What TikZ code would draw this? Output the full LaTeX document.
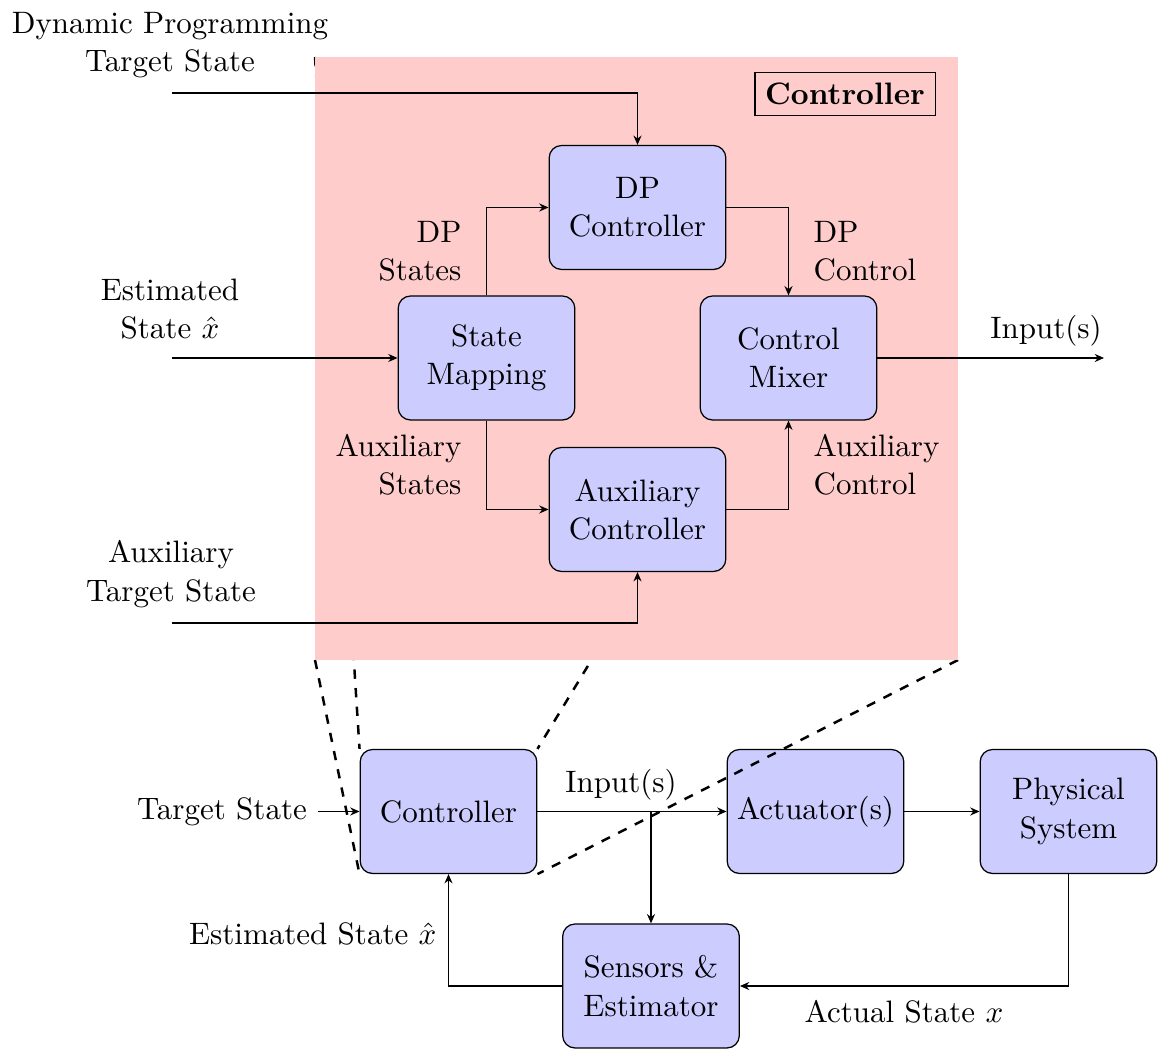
\documentclass[tikz,border=0pt]{standalone}
\usetikzlibrary{arrows.meta}
\begin{document}
\begin{tikzpicture}[x=0.3226pt,y=-0.3226pt,
  every node/.style={font=\fontsize{10}{12.4}\selectfont},
  block/.style={draw, fill=blue!20, rounded corners=4pt, align=center,
    minimum width=57pt, minimum height=40pt, inner sep=2pt},
  lbl/.style={inner sep=0pt, align=center},
  conn/.style={-{Stealth[length=3pt,width=2.6pt]}},
  zoomline/.style={thick, dashed}]
\useasboundingbox (0,0) rectangle (1159,1049);

% ---- closed loop: controller, actuators, plant, estimator ----
\node[block] (ctrl) at (448.5,811.5) {Controller};
\node[block] (act)  at (815.5,811.5) {Actuator(s)};
\node[block] (phys) at (1068.5,811.5) {Physical\\System};
\node[block] (sens) at (651,986) {Sensors \&\\Estimator};

\node (tsl) at (222,811.5) {Target State};
\draw[conn] (tsl) -- (ctrl);
\draw[conn] (ctrl) -- (act);
\node[lbl] (inl) at (621,785) {Input(s)};
\coordinate (br) at (651,811.5);
\draw[conn] (br) -- (sens);
\draw[conn] (act) -- (phys);
\draw[conn] (phys) |- (sens);
\draw[conn] (sens) -| (ctrl);
\node[lbl, anchor=east] (esl) at (437,934) {Estimated State $\hat{x}$};
\node[lbl] (asl) at (904,1012) {Actual State $x$};

% ---- zoom-in region for the controller ----
\coordinate (pnw) at (315,57);
\coordinate (pne) at (958,57);
\coordinate (psw) at (315,660);
\coordinate (pse) at (958,660);
\draw[zoomline] (pnw) -- (ctrl.north west);
\draw[zoomline] (955,62) -- (ctrl.north east);
\draw[zoomline] (psw) -- (ctrl.south west);
\draw[zoomline] (pse) -- (ctrl.south east);
\fill[red!20] (pnw) rectangle (pse);
\node[draw, fill=red!20, font=\bfseries] (title) at (845,94) {Controller};

% ---- controller internals ----
\node[block] (dpc) at (637.5,207.5) {DP\\Controller};
\node[block] (sm)  at (486.5,358) {State\\Mapping};
\node[block] (mix) at (788.5,358) {Control\\Mixer};
\node[block] (aux) at (637.5,509.5) {Auxiliary\\Controller};

\node[lbl] (dptl) at (170,45) {Dynamic Programming\\Target State};
\node[lbl] (estl) at (170,309) {Estimated\\State $\hat{x}$};
\node[lbl] (autl) at (171,574) {Auxiliary\\Target State};
\coordinate (dpin) at (172,93);
\coordinate (estin) at (172,358);
\coordinate (auxin) at (172,623);
\coordinate (out) at (1104,358);

\draw[conn] (dpin) -| (dpc);
\draw[conn] (estin) -- (sm);
\draw[conn] (auxin) -| (aux);
\draw[conn] (sm) |- (dpc);
\draw[conn] (sm) |- (aux);
\draw[conn] (dpc) -| (mix);
\draw[conn] (aux) -| (mix);
\draw[conn] (mix) -- (out);
\node[lbl] (outl) at (1046,331) {Input(s)};

\node[lbl, align=right, anchor=east] (dpsl) at (462,251) {DP\\States};
\node[lbl, align=left, anchor=west] (dpcl) at (813,251) {DP\\Control};
\node[lbl, align=right, anchor=east] (axsl) at (462,465) {Auxiliary\\States};
\node[lbl, align=left, anchor=west] (axcl) at (813,465) {Auxiliary\\Control};
\end{tikzpicture}
\end{document}
